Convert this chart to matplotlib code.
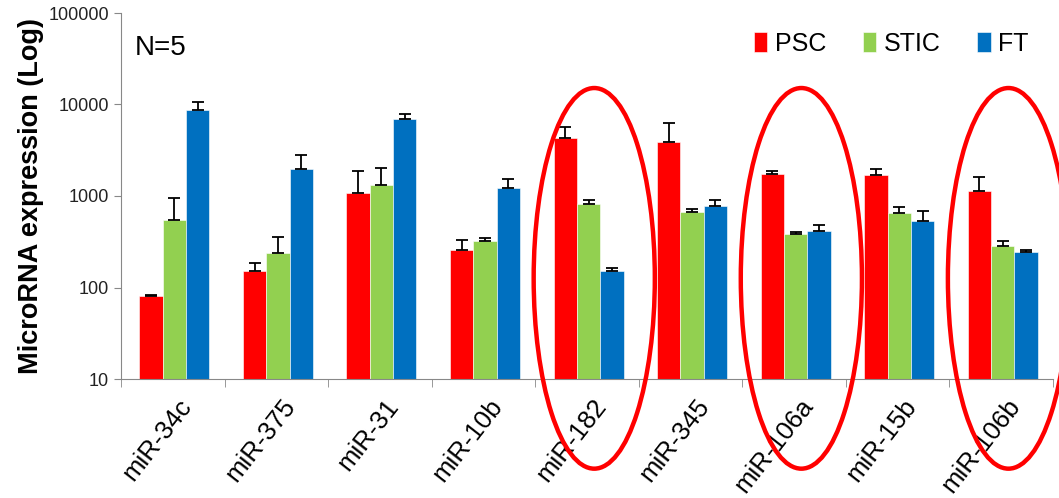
import numpy as np
import matplotlib
matplotlib.use('Agg')
import matplotlib.pyplot as plt
from matplotlib.patches import Ellipse
from matplotlib.transforms import blended_transform_factory, ScaledTranslation

plt.rcParams['font.family'] = ['Liberation Sans', 'DejaVu Sans']

##############################################################################
# Data

mirnas = ['miR-34c', 'miR-375', 'miR-31', 'miR-10b', 'miR-182',
          'miR-345', 'miR-106a', 'miR-15b', 'miR-106b']
groups = ['PSC', 'STIC', 'FT']
colors = ['#FF0000', '#92D050', '#0070C0']

psc = [81, 153, 1087, 257, 4270, 3860, 1750, 1700, 1125]
psc_top = [83, 184, 1890, 330, 5720, 6220, 1890, 1960, 1625]
stic = [542, 240, 1309, 320, 811, 674, 387, 647, 286]
stic_top = [944, 359, 2037, 345, 904, 726, 401, 752, 320]
ft = [8710, 1973, 7000, 1214, 153, 783, 414, 537, 246]
ft_top = [10700, 2826, 7816, 1523, 163, 904, 478, 691, 257]

highlight = ['miR-182', 'miR-106a', 'miR-106b']
yticks = [10, 100, 1000, 10000, 100000]

##############################################################################
# Plot

fig = plt.figure(figsize=(10.59, 4.98), dpi=100)
ax = fig.add_axes([121 / 1059, 119 / 498, 932 / 1059, 366 / 498])

x = np.arange(len(mirnas))
width = 0.225
values = [psc, stic, ft]
tops = [psc_top, stic_top, ft_top]

for k, (vals, top, name, col) in enumerate(zip(values, tops, groups, colors)):
    vals = np.array(vals, dtype=float)
    err = np.array(top, dtype=float) - vals
    pos = x + (k - 1) * width + 0.015
    ax.bar(pos, vals, width, color=col, label=name, bottom=0,
           edgecolor='white', linewidth=0.4, zorder=2)
    ax.errorbar(pos, vals, yerr=[np.zeros_like(err), err], fmt='none',
                ecolor='black', elinewidth=1.3, capsize=4, capthick=1.3,
                zorder=3)

ax.set_yscale('log')
ax.set_ylim(10, 100000)
ax.set_xlim(-0.5, len(mirnas) - 0.5)
ax.set_yticks(yticks)
ax.set_yticklabels([str(t) for t in yticks])
ax.yaxis.set_minor_locator(matplotlib.ticker.NullLocator())
ax.tick_params(axis='y', labelsize=13, length=5, color='#888888',
               labelcolor='#222222')

# category labels in the middle, boundary ticks between categories
ax.set_xticks(x)
ax.set_xticklabels(mirnas, rotation=52, ha='right', rotation_mode='anchor',
                   fontsize=18.5)
ax.set_xticks(np.arange(-0.5, len(mirnas)), minor=True)
ax.tick_params(axis='x', which='major', length=0, pad=6)
ax.tick_params(axis='x', which='minor', length=6, color='#888888')
offset = ScaledTranslation(5 / 100, -7 / 100, fig.dpi_scale_trans)
for lbl in ax.get_xticklabels():
    lbl.set_transform(lbl.get_transform() + offset)

for side in ['top', 'right']:
    ax.spines[side].set_visible(False)
for side in ['left', 'bottom']:
    ax.spines[side].set_color('#888888')

ax.set_ylabel('MicroRNA expression (Log)', fontsize=19.5, fontweight='bold',
              labelpad=3)

ax.text(0.015, 0.94, 'N=5', transform=ax.transAxes, fontsize=20,
        va='top', ha='left')

ax.legend(loc='upper right', bbox_to_anchor=(0.99, 0.99), ncol=3,
          frameon=False, fontsize=18, handlelength=0.55, handleheight=0.85,
          handletextpad=0.3, columnspacing=1.45, borderaxespad=0.2)

# red ellipses round the highlighted miRNAs
trans = blended_transform_factory(ax.transData, ax.transAxes)
for name in highlight:
    i = mirnas.index(name)
    ell = Ellipse((i + 0.07, 0.275), width=1.17, height=1.04,
                  transform=trans, fill=False, edgecolor='#FF0000',
                  linewidth=3.2, clip_on=False, zorder=5)
    ax.add_patch(ell)

plt.savefig('out.png', dpi=100)
